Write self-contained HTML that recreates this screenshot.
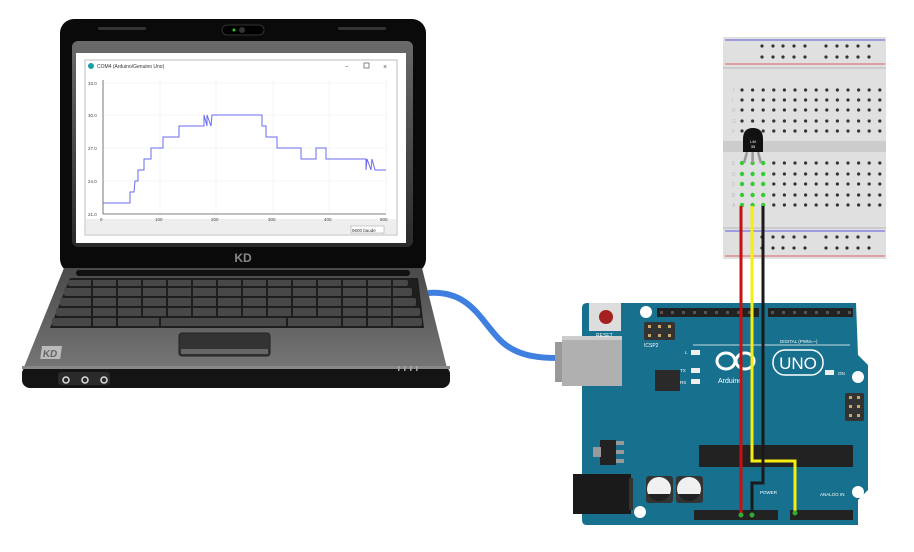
<!DOCTYPE html>
<html><head><meta charset="utf-8"><style>html,body{margin:0;padding:0;background:#fff;width:914px;height:552px;overflow:hidden}svg{display:block}text{font-family:"Liberation Sans",sans-serif}</style></head><body>
<svg width="914" height="552" viewBox="0 0 914 552" xmlns="http://www.w3.org/2000/svg">
<defs>
<linearGradient id="base" x1="0" y1="0" x2="0" y2="1"><stop offset="0" stop-color="#4a4a4a"/><stop offset="1" stop-color="#7a7a7a"/></linearGradient>
<linearGradient id="bez" x1="0" y1="0" x2="0" y2="1"><stop offset="0" stop-color="#6a6a6a"/><stop offset="1" stop-color="#2a2a2a"/></linearGradient>
<g id="r1" fill="#333"><circle cx="742" cy="0" r="1.6"/><circle cx="752.6" cy="0" r="1.6"/><circle cx="763.2" cy="0" r="1.6"/><circle cx="773.8" cy="0" r="1.6"/><circle cx="784.4" cy="0" r="1.6"/><circle cx="795" cy="0" r="1.6"/><circle cx="805.6" cy="0" r="1.6"/><circle cx="816.2" cy="0" r="1.6"/><circle cx="826.8" cy="0" r="1.6"/><circle cx="837.4" cy="0" r="1.6"/><circle cx="848" cy="0" r="1.6"/><circle cx="858.6" cy="0" r="1.6"/><circle cx="869.2" cy="0" r="1.6"/><circle cx="879.8" cy="0" r="1.6"/></g>
</defs>
<!-- USB cable -->
<path d="M428 293 C470 290,480 320,500 340 C515 355,535 358,558 358" stroke="#3e7fe0" stroke-width="6" fill="none"/>
<!-- laptop lid -->
<rect x="60" y="19" width="366" height="254" rx="14" fill="#0a0a0a"/>
<rect x="72" y="41" width="341" height="206" rx="6" fill="url(#bez)"/>
<rect x="76" y="53" width="330" height="190" fill="#fff"/>
<rect x="222" y="25" width="42" height="10" rx="5" fill="#000" stroke="#333"/>
<circle cx="234" cy="30" r="1.5" fill="#2c2"/><circle cx="242" cy="30" r="3" fill="#333"/>
<rect x="98" y="27" width="48" height="3" rx="1.5" fill="#333"/><rect x="338" y="27" width="48" height="3" rx="1.5" fill="#333"/>
<text x="243" y="262" font-size="12" font-weight="bold" fill="#888" text-anchor="middle">KD</text>
<!-- window -->
<rect x="85" y="60" width="312" height="175" fill="#fff" stroke="#bbb"/>
<circle cx="91" cy="66" r="3" fill="#17a0a8"/>
<text x="97" y="68" font-size="5" fill="#333">COM4 (Arduino/Genuino Uno)</text>
<text x="345" y="68" font-size="6" fill="#555">–</text><rect x="364" y="63" width="5" height="5" fill="none" stroke="#555" stroke-width=".7"/><text x="383" y="69" font-size="7" fill="#555">×</text>
<rect x="86" y="219" width="310" height="15" fill="#eee"/>
<rect x="351" y="226" width="33" height="7" fill="#fff" stroke="#999" stroke-width=".5"/><text x="352" y="232" font-size="4.5" fill="#333">9600 baude</text>
<g stroke="#eee" stroke-width=".6">
<line x1="103" y1="83" x2="386" y2="83"/><line x1="103" y1="115" x2="386" y2="115"/><line x1="103" y1="148" x2="386" y2="148"/><line x1="103" y1="181" x2="386" y2="181"/>
<line x1="160" y1="80" x2="160" y2="214"/><line x1="216" y1="80" x2="216" y2="214"/><line x1="273" y1="80" x2="273" y2="214"/><line x1="329" y1="80" x2="329" y2="214"/><line x1="386" y1="80" x2="386" y2="214"/>
</g>
<line x1="103" y1="80" x2="103" y2="214" stroke="#555" stroke-width=".8"/><line x1="103" y1="214" x2="386" y2="214" stroke="#555" stroke-width=".8"/>
<g font-size="4.5" fill="#444" font-family="Liberation Mono">
<text x="88" y="85">33.0</text><text x="88" y="117">30.0</text><text x="88" y="150">27.0</text><text x="88" y="183">24.0</text><text x="88" y="216">21.0</text>
<text x="100" y="221">0</text><text x="155" y="221">100</text><text x="211" y="221">200</text><text x="268" y="221">300</text><text x="324" y="221">400</text><text x="380" y="221">500</text>
</g>
<polyline fill="none" stroke="#6a6af0" stroke-width="1" points="103,203 130,203 130,192 134,192 135,181 138,181 138,170 144,170 144,159 151,159 151,148 163,148 163,137 179,137 179,126 204,126 204,115 207,126 207,115 211,126 212,115 262,115 262,126 266,126 266,137 277,137 277,148 301,148 301,159 316,159 316,148 326,148 326,159 366,159 366,170 367,159 371,170 372,159 375,170 386,170"/>
<!-- laptop base -->
<path d="M64 268 L422 268 L448 372 L448 378 L22 378 L22 372 Z" fill="url(#base)"/>
<rect x="76" y="270" width="334" height="6" rx="3" fill="#111"/>
<path d="M70 278 L418 278 L424 328 L50 328 Z" fill="#1e1e1e"/>
<g fill="#484848">
<rect x="68" y="280" width="340" height="6" rx="2"/>
<rect x="64" y="288" width="348" height="8" rx="2"/>
<rect x="60" y="298" width="356" height="8" rx="2"/>
<rect x="56" y="308" width="364" height="8" rx="2"/>
<rect x="52" y="318" width="370" height="8" rx="2"/>
</g>
<g stroke="#1e1e1e" stroke-width="2">
<line x1="92" y1="280" x2="92" y2="326"/><line x1="117" y1="280" x2="117" y2="326"/><line x1="142" y1="280" x2="142" y2="316"/><line x1="167" y1="280" x2="167" y2="316"/><line x1="192" y1="280" x2="192" y2="316"/><line x1="217" y1="280" x2="217" y2="316"/><line x1="242" y1="280" x2="242" y2="316"/><line x1="267" y1="280" x2="267" y2="316"/><line x1="292" y1="280" x2="292" y2="316"/><line x1="317" y1="280" x2="317" y2="316"/><line x1="342" y1="280" x2="342" y2="326"/><line x1="367" y1="280" x2="367" y2="326"/><line x1="392" y1="280" x2="392" y2="326"/>
<line x1="160" y1="318" x2="160" y2="326"/><line x1="287" y1="318" x2="287" y2="326"/>
</g>
<rect x="179" y="333" width="91" height="23" rx="3" fill="#333" stroke="#222"/>
<rect x="181" y="349" width="87" height="5" fill="#666"/>
<rect x="22" y="366" width="428" height="22" rx="8" fill="#141414"/>
<rect x="22" y="366" width="428" height="3" fill="#888"/>
<rect x="58" y="372" width="52" height="13" rx="3" fill="#2a2a2a"/>
<circle cx="66" cy="380" r="3" fill="none" stroke="#ddd" stroke-width="1.5"/><circle cx="85" cy="380" r="3" fill="none" stroke="#ddd" stroke-width="1.5"/><circle cx="104" cy="380" r="3" fill="none" stroke="#ddd" stroke-width="1.5"/>
<g transform="translate(42,346) skewX(-8)"><rect x="0" y="0" width="20" height="13" fill="#bbb"/><text x="2" y="11" font-size="10" font-weight="bold" fill="#666">KD</text></g>
<g fill="#aaa"><rect x="398" y="366" width="1.5" height="5"/><rect x="404" y="366" width="1.5" height="5"/><rect x="410" y="366" width="1.5" height="5"/><rect x="416" y="366" width="1.5" height="5"/></g>
<!-- Arduino board -->
<path d="M587 303 L856 303 L858 355 L868 365 L868 490 L858 500 L858 525 L587 525 Q582 525 582 520 L582 308 Q582 303 587 303 Z" fill="#17708e"/>
<!-- USB plug -->
<rect x="555" y="342" width="12" height="40" fill="#999"/>
<rect x="562" y="336" width="60" height="50" fill="#b0b0b0"/>
<rect x="562" y="336" width="60" height="4" fill="#ccc"/>
<circle cx="646" cy="312" r="6" fill="#fff"/><circle cx="858" cy="377" r="6" fill="#fff"/><circle cx="858" cy="492" r="6" fill="#fff"/><circle cx="640" cy="512" r="6" fill="#fff"/>
<rect x="589" y="303" width="32" height="28" fill="#ddd"/><circle cx="606" cy="317" r="7" fill="#a52020"/>
<text x="596" y="337" font-size="5" fill="#fff">RESET</text>
<rect x="644" y="322" width="31" height="18" rx="2" fill="#333"/>
<g fill="#c9a86a"><rect x="648" y="325" width="3" height="3"/><rect x="658" y="325" width="3" height="3"/><rect x="668" y="325" width="3" height="3"/><rect x="648" y="334" width="3" height="3"/><rect x="658" y="334" width="3" height="3"/><rect x="668" y="334" width="3" height="3"/></g>
<text x="644" y="347" font-size="5" fill="#fff">ICSP2</text>
<rect x="655" y="370" width="25" height="21" fill="#2a2a2a"/>
<rect x="657" y="308" width="102" height="9" fill="#222"/><rect x="768" y="308" width="85" height="9" fill="#222"/>
<rect x="694" y="510" width="84" height="10" fill="#222"/><rect x="790" y="510" width="63" height="10" fill="#222"/>
<g fill="#555"><rect x="660" y="311" width="3" height="3"/><rect x="671" y="311" width="3" height="3"/><rect x="682" y="311" width="3" height="3"/><rect x="693" y="311" width="3" height="3"/><rect x="704" y="311" width="3" height="3"/><rect x="715" y="311" width="3" height="3"/><rect x="726" y="311" width="3" height="3"/><rect x="737" y="311" width="3" height="3"/><rect x="748" y="311" width="3" height="3"/>
<rect x="771" y="311" width="3" height="3"/><rect x="782" y="311" width="3" height="3"/><rect x="793" y="311" width="3" height="3"/><rect x="804" y="311" width="3" height="3"/><rect x="815" y="311" width="3" height="3"/><rect x="826" y="311" width="3" height="3"/><rect x="837" y="311" width="3" height="3"/><rect x="848" y="311" width="3" height="3"/></g>
<g font-size="4.5" fill="#fff" font-family="Liberation Mono">
<text x="780" y="343">DIGITAL (PWM=~)</text><text x="820" y="496">ANALOG IN</text><text x="760" y="494">POWER</text>
<text x="685" y="354">L</text><text x="680" y="372">TX</text><text x="680" y="384">RX</text><text x="838" y="375">ON</text>
</g>
<line x1="693" y1="345" x2="850" y2="345" stroke="#fff" stroke-width=".8"/>
<rect x="691" y="350" width="9" height="5" fill="#eee"/><rect x="691" y="368" width="9" height="5" fill="#eee"/><rect x="691" y="379" width="9" height="5" fill="#eee"/><rect x="825" y="370" width="9" height="5" fill="#eee"/>
<ellipse cx="726" cy="361" rx="9" ry="8" fill="none" stroke="#fff" stroke-width="3"/><ellipse cx="745" cy="361" rx="9" ry="8" fill="none" stroke="#fff" stroke-width="3"/>
<rect x="773" y="350" width="50" height="25" rx="12" fill="none" stroke="#fff" stroke-width="1.5"/>
<text x="798" y="369" font-size="17" fill="#fff" text-anchor="middle">UNO</text>
<text x="718" y="383" font-size="7" fill="#fff" font-family="Liberation Mono">Arduino</text>
<rect x="845" y="393" width="19" height="28" rx="2" fill="#333"/>
<g fill="#c9a86a"><rect x="849" y="396" width="3" height="3"/><rect x="857" y="396" width="3" height="3"/><rect x="849" y="405" width="3" height="3"/><rect x="857" y="405" width="3" height="3"/><rect x="849" y="414" width="3" height="3"/><rect x="857" y="414" width="3" height="3"/></g>
<rect x="699" y="445" width="154" height="22" fill="#222"/>
<rect x="600" y="440" width="16" height="25" fill="#222"/><rect x="616" y="441" width="8" height="4" fill="#999"/><rect x="616" y="450" width="8" height="4" fill="#999"/><rect x="616" y="459" width="8" height="4" fill="#999"/><rect x="593" y="447" width="8" height="10" fill="#999"/>
<rect x="573" y="474" width="58" height="40" fill="#1a1a1a"/><rect x="629" y="478" width="4" height="32" fill="#333"/>
<rect x="646" y="476" width="27" height="27" rx="3" fill="#333"/><circle cx="659" cy="489" r="12" fill="#f0f0f0"/><path d="M648 494 A12 12 0 0 0 670 494 Z" fill="#222"/>
<rect x="676" y="476" width="27" height="27" rx="3" fill="#333"/><circle cx="689" cy="489" r="12" fill="#f0f0f0"/><path d="M678 494 A12 12 0 0 0 700 494 Z" fill="#222"/>
<!-- breadboard -->
<rect x="723" y="37" width="163" height="222" fill="#e0e0e0"/>
<line x1="725" y1="40" x2="885" y2="40" stroke="#5a5ae0" stroke-width="1"/><line x1="725" y1="64" x2="885" y2="64" stroke="#e06060" stroke-width="1"/>
<line x1="725" y1="231" x2="885" y2="231" stroke="#5a5ae0" stroke-width="1"/><line x1="725" y1="256" x2="885" y2="256" stroke="#e06060" stroke-width="1"/>
<rect x="723" y="67" width="163" height="2" fill="#ccc"/><rect x="723" y="227" width="163" height="2" fill="#ccc"/>
<rect x="723" y="141" width="163" height="11" fill="#ccc"/>
<g fill="#333">
<circle cx="762" cy="46" r="1.6"/><circle cx="773" cy="46" r="1.6"/><circle cx="783" cy="46" r="1.6"/><circle cx="794" cy="46" r="1.6"/><circle cx="805" cy="46" r="1.6"/><circle cx="826" cy="46" r="1.6"/><circle cx="837" cy="46" r="1.6"/><circle cx="847" cy="46" r="1.6"/><circle cx="858" cy="46" r="1.6"/><circle cx="869" cy="46" r="1.6"/>
<circle cx="762" cy="57" r="1.6"/><circle cx="773" cy="57" r="1.6"/><circle cx="783" cy="57" r="1.6"/><circle cx="794" cy="57" r="1.6"/><circle cx="805" cy="57" r="1.6"/><circle cx="826" cy="57" r="1.6"/><circle cx="837" cy="57" r="1.6"/><circle cx="847" cy="57" r="1.6"/><circle cx="858" cy="57" r="1.6"/><circle cx="869" cy="57" r="1.6"/>
<circle cx="762" cy="237" r="1.6"/><circle cx="773" cy="237" r="1.6"/><circle cx="783" cy="237" r="1.6"/><circle cx="794" cy="237" r="1.6"/><circle cx="805" cy="237" r="1.6"/><circle cx="826" cy="237" r="1.6"/><circle cx="837" cy="237" r="1.6"/><circle cx="847" cy="237" r="1.6"/><circle cx="858" cy="237" r="1.6"/><circle cx="869" cy="237" r="1.6"/>
<circle cx="762" cy="248" r="1.6"/><circle cx="773" cy="248" r="1.6"/><circle cx="783" cy="248" r="1.6"/><circle cx="794" cy="248" r="1.6"/><circle cx="805" cy="248" r="1.6"/><circle cx="826" cy="248" r="1.6"/><circle cx="837" cy="248" r="1.6"/><circle cx="847" cy="248" r="1.6"/><circle cx="858" cy="248" r="1.6"/><circle cx="869" cy="248" r="1.6"/>
</g>
<use href="#r1" y="90"/><use href="#r1" y="100"/><use href="#r1" y="110"/><use href="#r1" y="121"/><use href="#r1" y="131"/>
<use href="#r1" y="163"/><use href="#r1" y="174"/><use href="#r1" y="184"/><use href="#r1" y="195"/><use href="#r1" y="205"/>
<g fill="#3c3"><circle cx="742" cy="163" r="2.2"/><circle cx="752.6" cy="163" r="2.2"/><circle cx="763.2" cy="163" r="2.2"/><circle cx="742" cy="174" r="2.2"/><circle cx="752.6" cy="174" r="2.2"/><circle cx="763.2" cy="174" r="2.2"/><circle cx="742" cy="184" r="2.2"/><circle cx="752.6" cy="184" r="2.2"/><circle cx="763.2" cy="184" r="2.2"/><circle cx="742" cy="195" r="2.2"/><circle cx="752.6" cy="195" r="2.2"/><circle cx="763.2" cy="195" r="2.2"/><circle cx="742" cy="205" r="2.2"/><circle cx="752.6" cy="205" r="2.2"/><circle cx="763.2" cy="205" r="2.2"/></g>
<g font-size="5" fill="#bbb"><text x="732" y="92">J</text><text x="732" y="102">I</text><text x="732" y="112">H</text><text x="732" y="123">G</text><text x="732" y="133">F</text><text x="732" y="165">E</text><text x="732" y="176">D</text><text x="732" y="186">C</text><text x="732" y="197">B</text><text x="732" y="207">A</text></g>
<!-- LM35 -->
<path d="M744 163 L747 152 M752.6 163 L752.6 152 M761 163 L758 152" stroke="#999" stroke-width="2.5"/>
<path d="M743 152 L743 139 Q743 128 753 128 Q763 128 763 139 L763 152 Z" fill="#111"/>
<text x="753" y="143" font-size="4" fill="#fff" text-anchor="middle">LM</text><text x="753" y="148" font-size="4" fill="#fff" text-anchor="middle">35</text>
<!-- wires -->
<polyline points="741,206 741,516" stroke="#c81010" stroke-width="3" fill="none"/>
<polyline points="752,206 752,461 795,461 795,514" stroke="#f5ee10" stroke-width="3" fill="none"/>
<polyline points="763,206 763,483 752,483 752,515" stroke="#1a1a1a" stroke-width="3" fill="none"/>
<circle cx="741" cy="515" r="2.5" fill="#3a3"/><circle cx="752" cy="515" r="2.5" fill="#3a3"/><circle cx="795" cy="513" r="2.5" fill="#3a3"/>
</svg>
</body></html>
